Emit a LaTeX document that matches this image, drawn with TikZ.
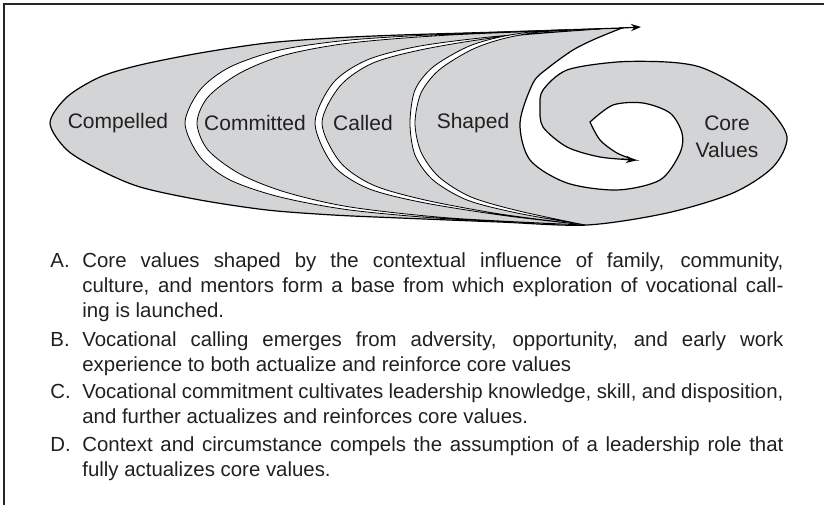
\documentclass[tikz,border=0pt]{standalone}
\usepackage{fontspec}
\setmainfont{Liberation Sans}
\usetikzlibrary{arrows.meta}

\definecolor{bandgray}{RGB}{211,212,214}
\definecolor{inktext}{RGB}{35,31,32}

\begin{document}
\begin{tikzpicture}[x=0.5pt, y=-0.5pt,
        edge/.style = {line width=0.6pt, black},
        ring/.style = {line width=0.4pt, black, fill=white},
        tip/.style = {-{Stealth[length=5pt,width=3.6pt]}},
        stage/.style = {text=inktext, font=\fontsize{10.5}{13.5}\selectfont, align=center},
        item/.style = {anchor=base west, text width=366.5pt, align=justify, inner sep=0pt,
                       text=inktext, font=\fontsize{10.2}{12.5}\selectfont}]
    \useasboundingbox (0,0) rectangle (824,505);
    % frame (top and left side only)
    \draw[line width=1pt, black!85] (4,505) -- (4,4) -- (824,4);

    % the grey spiral band
    \draw[edge, fill=bandgray]
        plot[smooth] coordinates {(622,28) (500,32) (400,35) (333,38) (267,43) (200,53)
            (140,65) (100,77) (67,97) (50,123) (67,150) (100,170) (140,187) (200,200)
            (267,210) (333,215) (400,218) (500,222) (587,225) (667,213) (733,193)
            (773,167) (787,137) (767,107) (733,83) (700,67) (667,62) (617,62) (567,70)
            (543,90) (540,107) (543,127) (567,147) (600,157) (635,160)}
        -- plot[smooth] coordinates {(635,160) (617,153) (600,140) (590,122)}
        -- plot[smooth] coordinates {(590,122) (613,105) (643,103) (670,113) (682,133)
            (680,153) (660,180) (617,190) (567,183) (530,160) (520,123) (533,83)
            (548,68) (573,50) (595,39) (622,28)}
        -- cycle;

    % white gaps between the stages
    \draw[ring] plot[smooth] coordinates {(600,29) (450,34) (350,40) (280,50) (230,67)
            (200,90) (185,123) (200,157) (230,180) (280,197) (350,210) (450,219) (585,225)}
        -- plot[smooth] coordinates {(585,225) (450,218) (350,207) (285,192) (240,174)
            (208,150) (197,123) (208,97) (240,73) (285,55) (350,43) (450,35) (600,29)}
        -- cycle;
    \draw[ring] plot[smooth] coordinates {(600,29) (500,36) (420,46) (367,60) (333,83)
            (315,123) (333,165) (367,188) (420,202) (500,215) (585,225)}
        -- plot[smooth] coordinates {(585,225) (500,214) (425,200) (373,185) (340,162)
            (322,123) (340,86) (373,63) (425,49) (500,37) (600,29)}
        -- cycle;
    \draw[ring] plot[smooth] coordinates {(600,29) (540,31) (500,37) (467,47) (433,67)
            (415,90) (410,123) (415,155) (433,180) (467,200) (517,213) (585,225)}
        -- plot[smooth] coordinates {(585,225) (519,211) (471,197) (439,177) (421,152)
            (415,123) (421,93) (439,70) (471,50) (502,39) (540,32) (600,29)}
        -- cycle;

    % arrow heads
    \draw[edge, tip] (618,28.2) -- (641,27);
    \draw[edge, tip] (622,159) -- (636,160.5);

    % stage labels
    \node[stage] (compelled) at (118,123) {Compelled};
    \node[stage] (committed) at (255,123) {Committed};
    \node[stage] (called) at (363,123) {Called};
    \node[stage] (shaped) at (473,123) {Shaped};
    \node[stage] (core) at (727,137) {Core\\Values};

    % explanations
    \node[item] (itemA) at (50,267) {\hangindent=16pt\hangafter=1
        \makebox[16pt][l]{A.}Core values shaped by the contextual influence of family, community,\linebreak
        culture, and mentors form a base from which exploration of vocational call-\linebreak
        ing is launched.\par};
    \node[item] (itemB) at (50,346) {\hangindent=16pt\hangafter=1
        \makebox[16pt][l]{B.}Vocational calling emerges from adversity, opportunity, and early work\linebreak
        experience to both actualize and reinforce core values\par};
    \node[item] (itemC) at (50,398) {\hangindent=16pt\hangafter=1
        \makebox[16pt][l]{C.}Vocational commitment cultivates leadership knowledge, skill, and disposition,\linebreak
        and further actualizes and reinforces core values.\par};
    \node[item] (itemD) at (50,451) {\hangindent=16pt\hangafter=1
        \makebox[16pt][l]{D.}Context and circumstance compels the assumption of a leadership role that\linebreak
        fully actualizes core values.\par};
\end{tikzpicture}
\end{document}
